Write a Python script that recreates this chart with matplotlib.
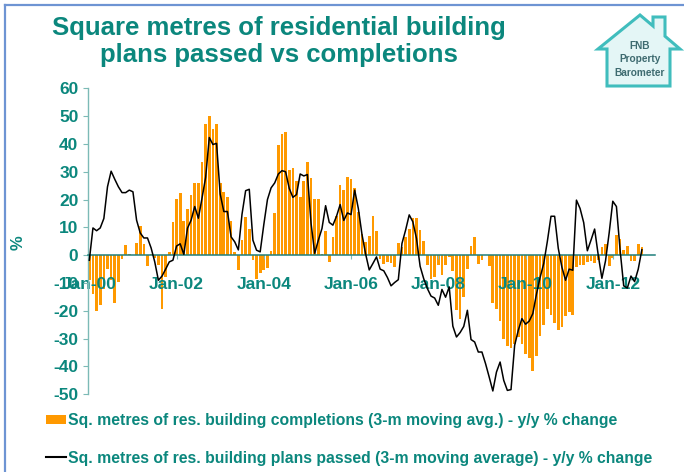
import numpy as np
import matplotlib
matplotlib.use("Agg")
import matplotlib.pyplot as plt
from matplotlib.patches import Polygon
from matplotlib.lines import Line2D
from matplotlib.patches import Patch

# ---------------- data ----------------
completions = [
    -9, -14, -20, -18, -12, -5, -9, -17, -9.5, -1.5, 3.5, 0.5,          # 2000
    0, 4.5, 10.5, 4, -4, 0.5, -1, -3.5, -19.5, -8, 1.2, 12,             # 2001
    20.2, 22.4, 12.2, 16.6, 21.6, 26, 26, 33.6, 47, 50, 45.5, 47,       # 2002
    26, 22.6, 20.8, 12.2, 1.2, -5.3, 5.3, 13.8, 9.6, -1.8, -8.7, -6.3,  # 2003
    -5.4, -4.6, 1.5, 15.1, 39.6, 43.5, 44.2, 30.7, 31.5, 26.7, 20.9, 26.7,  # 2004
    33.5, 27.6, 20.2, 20.2, 0.5, 8.7, -2.4, 6.5, 14, 25.3, 23.6, 28.2,  # 2005
    27.3, 24.3, 15.6, 7.5, 4.8, 7, 14, 8.7, -1.3, -3, -2.4, -2.8,       # 2006
    -4.4, 4.3, 3, 6.4, 9.5, 13.3, 13.3, 9.1, 5, -3.5, -8.5, -8,         # 2007
    -3.5, -7.2, -3.6, -0.6, -5.5, -19.8, -23.1, -15, -5, 3.2, 6.4, -3,  # 2008
    -1.7, 0, -4, -17, -19.5, -23.5, -30, -32.5, -33.5, -32, -29.5, -32, # 2009
    -35.5, -37, -41.6, -36.3, -29, -25, -19.5, -21.5, -24.3, -27, -25.8, -22,  # 2010
    -20.5, -21.6, -4.4, -3.6, -3.6, -2.4, -2, -2.8, -1.6, 2.8, 4, -4,   # 2011
    -1, 7.4, 6, 1.8, 3.2, -2, -2, 4, 3,                                  # 2012
]
plans_passed = [
    -1.8, 9.8, 8.8, 9.8, 13.2, 24.6, 30.2, 27.3, 24.6, 22.5, 22.5, 23.4,
    22.8, 12.6, 8, 6.2, 6.2, 2.6, -2.4, -9, -7.5, -5, -2.4, -1.8,
    3.3, 4.1, 0.3, 9.7, 12.6, 17.5, 13.3, 20.5, 28, 42.3, 39.8, 40.2,
    22, 15.7, 15.7, 6.6, 4.8, 1.9, 14.7, 23.2, 23.7, 5.4, 1.8, 1.2,
    11, 20, 24.2, 26, 29.2, 30.4, 30, 24, 20.8, 21.8, 29.2, 28.5,
    29, 11.4, 0.7, 5.4, 9.6, 17.8, 11.8, 10.8, 14, 18.2, 12.5, 15.2,
    14.6, 23.4, 16.8, 7.5, 0.5, -5.3, -3, -0.6, -5, -5.6, -8, -11,
    -9.8, -8.8, 4.2, 9, 14.5, 12, 6, -4, -8.5, -12, -14.7, -15.4,
    -18, -12.3, -15.1, -11.4, -25.5, -29.4, -27.8, -25.6, -19.8, -30.3, -31.2, -34.8,
    -34.8, -39, -43.8, -48.8, -42, -38.4, -45, -48.6, -48.3, -32.4, -27, -22.8,
    -24.8, -23.7, -21, -14, -8, -3, 5, 14, 14, 2.5, -4.3, -9,
    -5, -5.4, 19.8, 16.8, 11.7, 1.6, 5.4, 9.4, 0, -8.3, -2, 8,
    19.4, 17.5, 2, -11, -11.8, -7.5, -9.5, -5, 2,
]
tick_labels = ["Jan-00", "Jan-02", "Jan-04", "Jan-06", "Jan-08", "Jan-10", "Jan-12"]
tick_months = [0, 24, 48, 72, 96, 120, 144]
n_categories = 156
y_ticks = [-50, -40, -30, -20, -10, 0, 10, 20, 30, 40, 50, 60]

title_1 = "Square metres of residential building"
title_2 = "plans passed vs completions"
legend_bar = "Sq. metres of res. building completions (3-m moving avg.) - y/y % change"
legend_line = "Sq. metres of res. building plans passed (3-m moving average) - y/y % change"

# ---------------- style ----------------
TEAL = "#0B877D"
ORANGE = "#FF9900"
FONT = ["Liberation Sans", "DejaVu Sans"]
plt.rcParams["font.family"] = FONT
plt.rcParams["font.weight"] = "bold"

W, H = 684, 472
fig = plt.figure(figsize=(W / 100, H / 100), dpi=100)

def fx(px):
    return px / W

def fy(py):
    return 1 - py / H

ax_left, ax_right, ax_top, ax_bot = 87.5, 654.6, 88.3, 394.3
ax = fig.add_axes([fx(ax_left), fy(ax_bot), (ax_right - ax_left) / W, (ax_bot - ax_top) / H])

x = np.arange(len(completions))
ax.bar(x, completions, width=0.74, color=ORANGE, zorder=1)
ax.plot(np.arange(len(plans_passed)), plans_passed, color="black", lw=1.1, zorder=3)

ax.set_xlim(-0.5, n_categories - 0.5)
ax.set_ylim(-50, 60)
ax.set_yticks(y_ticks)
ax.set_yticklabels([str(v) for v in y_ticks])
ax.set_xticks(tick_months)
ax.set_xticklabels(tick_labels)

for s in ["top", "right"]:
    ax.spines[s].set_visible(False)
ax.spines["left"].set_color("#7CBAB6")
ax.spines["left"].set_linewidth(1.0)
ax.spines["bottom"].set_position(("data", 0))
ax.spines["bottom"].set_color("#1F7F7C")
ax.spines["bottom"].set_linewidth(1.1)
ax.spines["bottom"].set_zorder(2.5)

ax.tick_params(axis="y", direction="out", length=3.5, width=0.8, color="#7CBAB6",
               labelsize=12.5, labelcolor=TEAL, pad=3)
ax.tick_params(axis="x", direction="out", length=3, width=0.8, color="#7CBAB6",
               labelsize=12.5, labelcolor=TEAL, pad=13)
for lab in ax.get_xticklabels() + ax.get_yticklabels():
    lab.set_fontweight("bold")

fig.text(fx(18), fy(243), "%", rotation=90, color=TEAL, fontsize=12, fontweight="bold",
         ha="center", va="center")

# title
fig.text(fx(279), fy(35), title_1, color=TEAL, fontsize=18.5, fontweight="bold",
         ha="center", va="baseline")
fig.text(fx(279), fy(62), title_2, color=TEAL, fontsize=18.5, fontweight="bold",
         ha="center", va="baseline")

# legends
leg1 = fig.legend(handles=[Patch(facecolor=ORANGE, edgecolor="none")], labels=[legend_bar],
                  loc="center left", bbox_to_anchor=(fx(46), fy(421)), frameon=False,
                  borderpad=0, borderaxespad=0, handlelength=1.25, handleheight=0.5,
                  handletextpad=0.15, fontsize=11.3, labelcolor=TEAL,
                  prop={"weight": "bold", "size": 11.3})
leg2 = fig.legend(handles=[Line2D([], [], color="black", lw=1.5)], labels=[legend_line],
                  loc="center left", bbox_to_anchor=(fx(46), fy(458)), frameon=False,
                  borderpad=0, borderaxespad=0, handlelength=1.25,
                  handletextpad=0.15, labelcolor=TEAL,
                  prop={"weight": "bold", "size": 11.3})

# logo (house)
lax = fig.add_axes([fx(588), fy(96), fx(96), (96 - 8) / H])
lax.set_xlim(588, 684)
lax.set_ylim(96, 8)
lax.axis("off")
house = [(640, 15), (653, 26), (653, 17), (665, 17), (665, 36.2), (680, 49), (670, 49),
         (670, 86), (607, 86), (607, 49), (598, 49)]
lax.add_patch(Polygon(house, closed=True, facecolor="#E4F6F6", edgecolor="#40BDBD",
                      lw=2.2, joinstyle="miter"))
for txt, yy in [("FNB", 46), ("Property", 59.5), ("Barometer", 72.5)]:
    lax.text(640, yy, txt, ha="center", va="center", fontsize=7.3, color="#3E6B70",
             fontweight="bold")

# frame lines (top & left)
fig.add_artist(Line2D([fx(5), 1], [fy(5), fy(5)], color="#6E94D3", lw=1.6))
fig.add_artist(Line2D([fx(5), fx(5)], [fy(5), 0], color="#6E94D3", lw=1.6))

fig.savefig("out.png", dpi=100)
